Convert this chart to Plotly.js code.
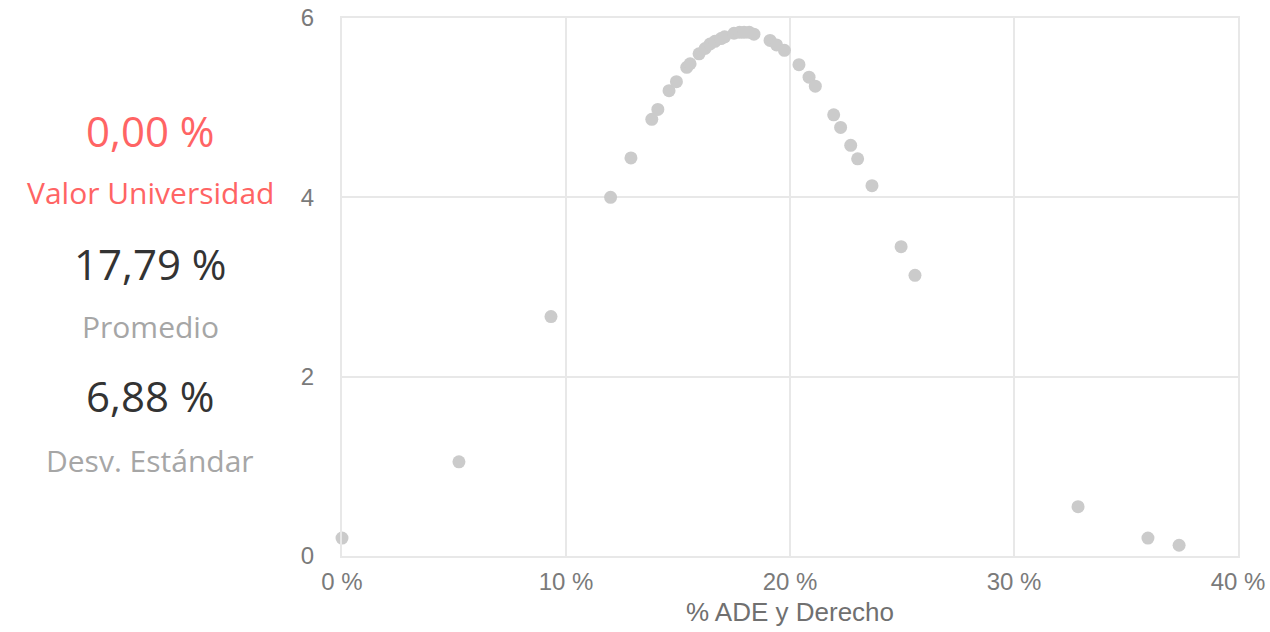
<!DOCTYPE html>
<html>
<head>
<meta charset="utf-8">
<script src="https://cdn.plot.ly/plotly-3.0.1.min.js"></script>
<style>html,body{margin:0;padding:0;background:#fff;}#chart{width:1270px;height:632px;}</style>
</head>
<body>
<div id="chart"></div>
<script>
// % ADE y Derecho (x) vs density (y)
var pctADE = [0.0, 5.22, 9.33, 11.99, 12.90, 13.83, 14.10, 14.60, 14.93, 15.39, 15.54, 15.94, 16.21, 16.43, 16.65, 16.92, 17.08, 17.50, 17.75, 17.95, 18.18, 18.39, 19.11, 19.40, 19.75, 20.40, 20.85, 21.13, 21.95, 22.26, 22.71, 23.02, 23.66, 24.96, 25.58, 32.86, 35.98, 37.37];
var density = [0.20, 1.05, 2.67, 4.00, 4.44, 4.87, 4.98, 5.19, 5.29, 5.45, 5.49, 5.60, 5.66, 5.71, 5.74, 5.77, 5.79, 5.83, 5.84, 5.84, 5.84, 5.82, 5.75, 5.70, 5.64, 5.48, 5.34, 5.24, 4.92, 4.78, 4.58, 4.43, 4.13, 3.45, 3.13, 0.55, 0.20, 0.12];

var xTickVals = [0, 10, 20, 30, 40];
var xTickText = ["0 %", "10 %", "20 %", "30 %", "40 %"];
var yTickVals = [0, 2, 4, 6];

var statValues = ["0,00 %", "17,79 %", "6,88 %"];
var statLabels = ["Valor Universidad", "Promedio", "Desv. Estándar"];

var W = 1270, H = 632, L = 342, R = 32, T = 18, B = 76;
var pw = W - L - R, ph = H - T - B;
function px(xp){ return (xp - L) / pw; }
function py(yp){ return (H - B - yp) / ph; }

var sideFont = '"Segoe UI", "Open Sans", "Noto Sans", sans-serif';
var valueY = [130, 263, 396];
var labelY = [192, 326, 460];
var valueColors = ["#FF6464", "#333333", "#333333"];
var labelColors = ["#FF6464", "#A6A6A6", "#A6A6A6"];

var annotations = [];
for (var i = 0; i < statValues.length; i++) {
  annotations.push({xref:'paper', yref:'paper', x: px(150), y: py(valueY[i]), xanchor:'center', yanchor:'middle',
    text: statValues[i], showarrow:false, font:{family: sideFont, size:42, color: valueColors[i]}});
  annotations.push({xref:'paper', yref:'paper', x: px(150), y: py(labelY[i]), xanchor:'center', yanchor:'middle',
    text: statLabels[i], showarrow:false, font:{family: sideFont, size:30, color: labelColors[i]}});
}

var trace = {
  x: pctADE, y: density, type:'scatter', mode:'markers',
  marker:{size:13, color:'#CBCBCB'}, hoverinfo:'skip', cliponaxis:false
};

var layout = {
  width: W, height: H,
  margin:{l:L, r:R, t:T, b:B, pad:0},
  paper_bgcolor:'#fff', plot_bgcolor:'#fff',
  showlegend:false,
  font:{family:'"Liberation Sans", Arial, sans-serif', color:'#777'},
  xaxis:{range:[0,40], tickmode:'array', tickvals:xTickVals, ticktext:xTickText, showgrid:true, gridcolor:'#E8E8E8', gridwidth:2,
    zeroline:false, showline:true, mirror:true, linecolor:'#E8E8E8', linewidth:2, ticks:'', tickfont:{size:24, color:'#7a7a7a'},
    ticklabelstandoff:3,
    title:{text:'% ADE y Derecho', font:{size:26, color:'#707070'}, standoff:9}},
  yaxis:{range:[0,6], tickvals:yTickVals, showgrid:true, gridcolor:'#E8E8E8', gridwidth:2,
    zeroline:false, showline:true, mirror:true, linecolor:'#E8E8E8', linewidth:2, ticks:'', tickfont:{size:24, color:'#7a7a7a'}, ticklabelstandoff:21},
  annotations: annotations
};

Plotly.newPlot('chart', [trace], layout, {displayModeBar:false, staticPlot:true});
</script>
</body>
</html>
